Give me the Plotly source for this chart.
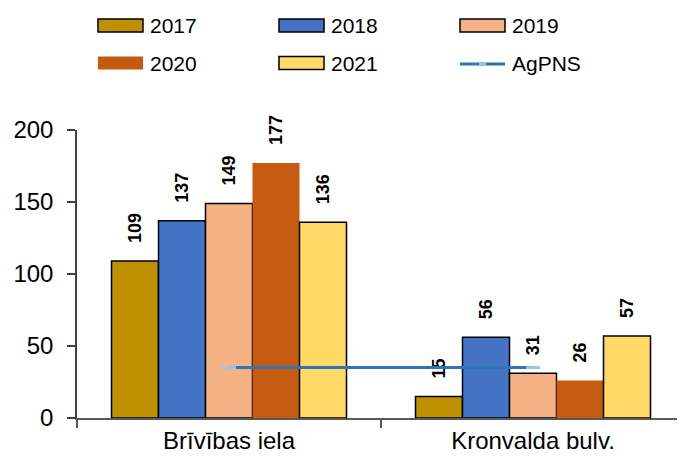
import plotly.graph_objects as go

categories = ["Brīvības iela", "Kronvalda bulv."]
years = ["2017", "2018", "2019", "2020", "2021"]
values_2017 = [109, 15]
values_2018 = [137, 56]
values_2019 = [149, 31]
values_2020 = [177, 26]
values_2021 = [136, 57]
agpns = [35, 35]
y_ticks = [0, 50, 100, 150, 200]

series = [values_2017, values_2018, values_2019, values_2020, values_2021]
colors = ["#BF9000", "#4472C4", "#F4B183", "#C55A11", "#FFD966"]
outline = [1.5, 1.5, 1.5, 0, 1.5]
line_color = "#2E75B6"

FONT = "Liberation Sans, Arial, sans-serif"

fig = go.Figure()
for name, vals, col, ow in zip(years, series, colors, outline):
    fig.add_trace(go.Bar(
        name=name, x=categories, y=vals,
        marker=dict(color=col, line=dict(color="#000000", width=ow)),
        text=["\u00a0\u00a0\u00a0" + str(v) for v in vals],
        textposition="outside", textangle=-90,
        textfont=dict(family=FONT, size=18, color="#000000", weight="bold"),
        constraintext="none", cliponaxis=False,
        showlegend=False,
    ))

fig.add_trace(go.Scatter(
    name="AgPNS", x=categories, y=agpns, mode="lines+markers",
    line=dict(color=line_color, width=3),
    marker=dict(symbol="line-ew", size=10, line=dict(color="#9DC3E6", width=3)),
    showlegend=False, cliponaxis=False,
))

# Page has an 8px offset; figure sized to fit the 685x459 window
OFF = 8
W, H = 685 - OFF, 459 - OFF
L, R, T, B = 77 - OFF, 0, 130 - OFF, 41
pw, ph = W - L - R, H - T - B

def px_x(px):
    return (px - OFF - L) / pw

def px_y(py):
    return (H - B - (py - OFF)) / ph

legend_names = years + ["AgPNS"]
col_x = [98, 279, 460]
row_y = [25.5, 63]
shapes = []
annotations = []
for i, nm in enumerate(legend_names):
    cx = col_x[i % 3]
    cy = row_y[i // 3]
    if nm == "AgPNS":
        shapes.append(dict(type="line", xref="paper", yref="paper",
                           x0=px_x(cx), x1=px_x(cx + 45), y0=px_y(cy + 1), y1=px_y(cy + 1),
                           line=dict(color=line_color, width=3)))
        shapes.append(dict(type="line", xref="paper", yref="paper",
                           x0=px_x(cx + 19), x1=px_x(cx + 26), y0=px_y(cy + 1), y1=px_y(cy + 1),
                           line=dict(color="#9DC3E6", width=3)))
    else:
        idx = years.index(nm)
        shapes.append(dict(type="rect", xref="paper", yref="paper",
                           x0=px_x(cx), x1=px_x(cx + 45), y0=px_y(cy - 6.5), y1=px_y(cy + 6.5),
                           fillcolor=colors[idx],
                           line=dict(color="#000000", width=outline[idx]) if outline[idx] else dict(width=0)))
    annotations.append(dict(text=nm, xref="paper", yref="paper",
                            x=px_x(cx + 50), y=px_y(cy), xanchor="left", yanchor="middle",
                            showarrow=False, font=dict(family=FONT, size=21, color="#000000")))

fig.update_layout(
    width=W, height=H,
    margin=dict(l=L, r=R, t=T, b=B, pad=0),
    paper_bgcolor="white", plot_bgcolor="white",
    barmode="group", bargap=0.227, bargroupgap=0,
    showlegend=False,
    shapes=shapes, annotations=annotations,
    font=dict(family=FONT, color="#000000"),
)
fig.update_xaxes(
    showline=True, linecolor="#595959", linewidth=1.5,
    ticks="outside", tickson="boundaries", ticklen=8, tickcolor="#595959", tickwidth=1.5,
    tickfont=dict(family=FONT, size=24, color="#000000"),
    showgrid=False, zeroline=False,
)
fig.update_yaxes(
    range=[0, 200], tickvals=y_ticks,
    showline=True, linecolor="#404040", linewidth=1.5,
    ticks="outside", ticklen=8, tickcolor="#404040", tickwidth=1.5,
    ticklabelstandoff=9,
    tickfont=dict(family=FONT, size=24, color="#000000"),
    showgrid=False, zeroline=False,
)

fig.write_html("out.html")
